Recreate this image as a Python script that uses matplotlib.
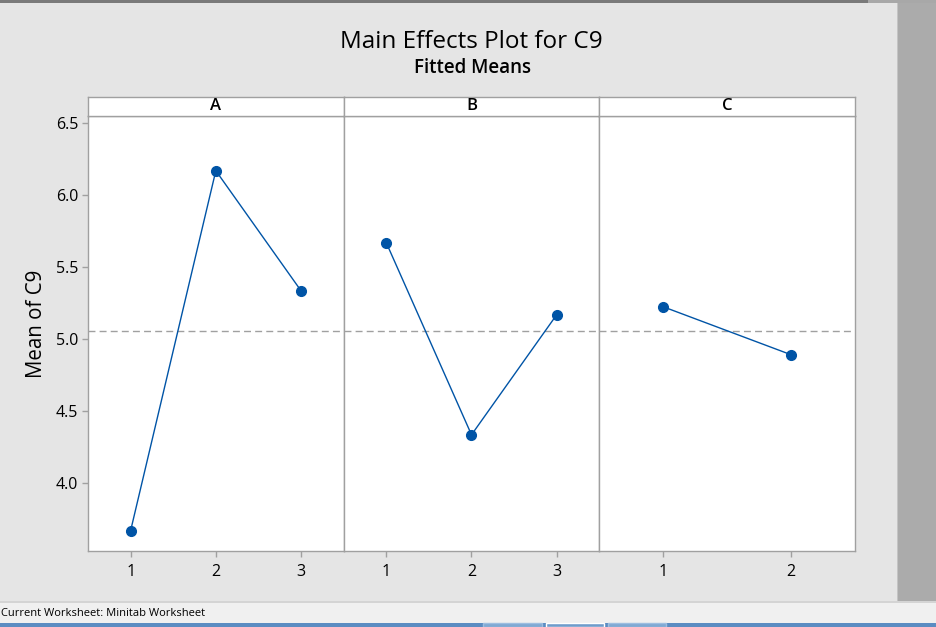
import matplotlib
matplotlib.use("Agg")
import matplotlib.pyplot as plt
from matplotlib.patches import Rectangle

# ---- data ----
factors = ["A", "B", "C"]
levels_A = [1, 2, 3]
levels_B = [1, 2, 3]
levels_C = [1, 2]
means_A = [3.667, 6.167, 5.333]
means_B = [5.667, 4.333, 5.167]
means_C = [5.222, 4.889]
grand_mean = 5.056
yticks = [4.0, 4.5, 5.0, 5.5, 6.0, 6.5]

W, H = 936, 627
FONT = "Open Sans"
plt.rcParams['font.family'] = [FONT, 'DejaVu Sans']

fig = plt.figure(figsize=(W / 100, H / 100), dpi=100)
fig.patch.set_facecolor('#e5e5e5')


def fx(x):
    return x / W


def fy(y):
    return 1 - y / H


def rect(x0, y0, x1, y1, color, z=0, edge='none'):
    fig.patches.append(Rectangle((fx(x0), fy(y1)), fx(x1) - fx(x0), fy(y0) - fy(y1),
                                 transform=fig.transFigure, facecolor=color,
                                 edgecolor=edge, lw=1, zorder=z))


# window chrome
rect(0, 0, 868, 3, '#7a7a7a')
rect(868, 0, 936, 3, '#a8a8a8')
rect(897, 3, 898, 601, '#c4c4c4')
rect(898, 3, 936, 601, '#ababab')
rect(0, 601, 936, 603, '#d4d4d4')
rect(0, 603, 936, 623, '#f0f0f0')
rect(0, 623, 936, 627, '#5b8cc2')
rect(483, 623, 542, 627, '#7fa9d3', edge='#9dbde0')
rect(546, 623, 604, 627, '#6f9ccb', edge='#ffffff')
rect(608, 623, 666, 627, '#7fa9d3', edge='#9dbde0')
fig.text(fx(1), fy(614), "Current Worksheet: Minitab Worksheet", fontsize=8,
         ha='left', va='center', color='black')

# titles
fig.text(fx(471), fy(42), "Main Effects Plot for C9", fontsize=17.5, ha='center',
         va='center', color='black')
fig.text(fx(472), fy(68), "Fitted Means", fontsize=13.5, ha='center', va='center',
         color='black', fontweight='semibold')
fig.text(fx(36), fy(324), "Mean of C9", fontsize=14.8, rotation=90, ha='center',
         va='center', color='black')

# panel geometry
left, right = 88, 855
top_plot, bottom_plot = 116, 551
strip_top = 97
pw = (right - left) / 3

series = [(levels_A, means_A), (levels_B, means_B), (levels_C, means_C)]
frame_col = '#a0a0a0'
line_col = '#0054a6'

for i, (name, (lv, mv)) in enumerate(zip(factors, series)):
    x0 = left + i * pw
    ax = fig.add_axes([fx(x0), fy(bottom_plot), pw / W, (bottom_plot - top_plot) / H])
    ax.set_facecolor('white')
    ax.plot(lv, mv, color=line_col, lw=1.0, marker='o', markersize=7,
            markerfacecolor=line_col, markeredgecolor=line_col, zorder=3)
    ax.axhline(grand_mean, color='#a0a0a0', lw=1.0, ls=(0, (5, 3)), zorder=2)
    ax.set_xlim(0.5, len(lv) + 0.5)
    ax.set_ylim(3.526, 6.547)
    ax.set_xticks(lv)
    ax.set_xticklabels([str(v) for v in lv], fontsize=11.5)
    for s in ax.spines.values():
        s.set_color(frame_col)
        s.set_linewidth(1.0)
    ax.tick_params(axis='x', colors=frame_col, labelcolor='black', length=4, width=1, pad=5)
    if i == 0:
        ax.set_yticks(yticks)
        ax.set_yticklabels([f"{v:.1f}" for v in yticks], fontsize=11.5)
        ax.tick_params(axis='y', colors=frame_col, labelcolor='black', length=4, width=1, pad=3)
    else:
        ax.set_yticks([])
    # strip
    sax = fig.add_axes([fx(x0), fy(top_plot), pw / W, (top_plot - strip_top) / H])
    sax.set_facecolor('white')
    sax.set_xticks([])
    sax.set_yticks([])
    for s in sax.spines.values():
        s.set_color(frame_col)
        s.set_linewidth(1.0)
    sax.text(0.5, 0.5, name, transform=sax.transAxes, ha='center', va='center',
             fontsize=12, fontweight='semibold', color='black')

fig.savefig("out.png", dpi=100, facecolor=fig.get_facecolor())
